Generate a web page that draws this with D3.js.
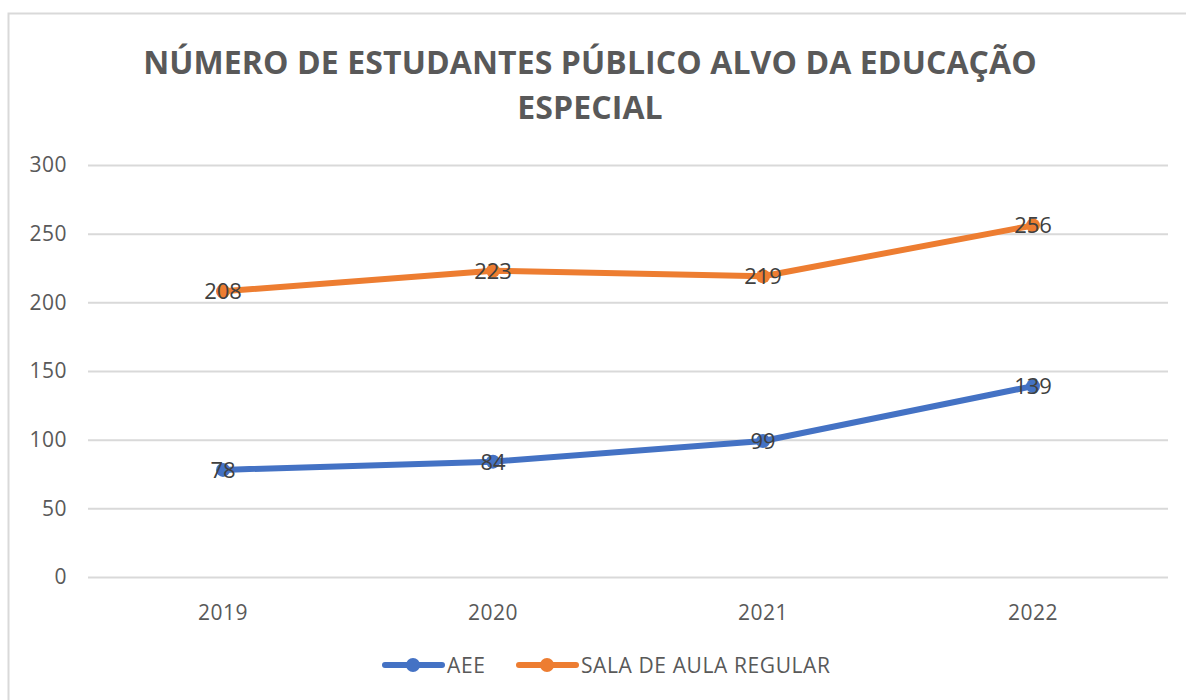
<!DOCTYPE html>
<html>
<head>
<meta charset="utf-8">
<script src="https://cdn.jsdelivr.net/npm/d3@7"></script>
<style>
  body { margin: 0; background: #fff; }
  svg { display: block; font-family: "Open Sans", "Noto Sans", sans-serif; }
</style>
</head>
<body>
<svg id="chart"></svg>
<script>
// data
var years = ["2019", "2020", "2021", "2022"];
var aee = [78, 84, 99, 139];
var salaRegular = [208, 223, 219, 256];
var seriesNames = ["AEE", "SALA DE AULA REGULAR"];
var seriesColors = ["#4472C4", "#ED7D31"];
var yTicks = [0, 50, 100, 150, 200, 250, 300];
var titleLines = ["NÚMERO DE ESTUDANTES PÚBLICO ALVO DA EDUCAÇÃO", "ESPECIAL"];

var W = 1186, H = 700;
var margin = {top: 165, right: 18, bottom: 123, left: 88},
    w = W - margin.left - margin.right,
    h = H - margin.top - margin.bottom;

var svg = d3.select("#chart")
    .attr("width", W)
    .attr("height", H);

// chart frame
svg.append("rect")
   .attr("x", 8.5).attr("y", 13.5)
   .attr("width", W + 20).attr("height", H + 20)
   .attr("fill", "#fff")
   .attr("stroke", "#d9d9d9")
   .attr("stroke-width", 2);

// title
svg.append("text")
   .attr("x", 590)
   .attr("y", 74)
   .attr("text-anchor", "middle")
   .style("font-size", "32px")
   .style("font-weight", 700)
   .style("letter-spacing", "0.1px")
   .style("fill", "#595959")
   .selectAll("tspan")
   .data(titleLines)
   .enter()
   .append("tspan")
   .attr("x", 590)
   .attr("dy", function(d, i) { return i === 0 ? 0 : 45; })
   .text(function(d) { return d; });

var xScale = d3.scaleBand()
    .domain(years)
    .range([0, w]);

var yScale = d3.scaleLinear()
    .domain([0, 300])
    .range([h, 0]);

var g = svg.append("g")
    .attr("transform", "translate(" + margin.left + "," + margin.top + ")");

// gridlines
g.append("g")
 .attr("class", "grid")
 .call(d3.axisLeft(yScale).tickValues(yTicks).tickSize(-w).tickFormat(""))
 .call(function(s) {
    s.select(".domain").remove();
    s.selectAll("line").attr("stroke", "#d9d9d9").attr("stroke-width", 2);
 });

// y axis labels
g.append("g")
 .call(d3.axisLeft(yScale).tickValues(yTicks).tickSize(0).tickPadding(21))
 .call(function(s) {
    s.select(".domain").remove();
    s.selectAll("text")
     .style("font-size", "21px")
     .style("letter-spacing", "0.5px")
     .style("fill", "#595959")
     .style("font-family", "'Open Sans', sans-serif");
 });

// x axis labels
g.append("g")
 .attr("transform", "translate(0," + h + ")")
 .call(d3.axisBottom(xScale).tickSize(0).tickPadding(28))
 .call(function(s) {
    s.select(".domain").remove();
    s.selectAll("text")
     .style("font-size", "21px")
     .style("letter-spacing", "0.5px")
     .style("fill", "#595959")
     .style("font-family", "'Open Sans', sans-serif");
 });

var series = [aee, salaRegular];

var line = d3.line()
    .x(function(d, i) { return xScale(years[i]) + xScale.bandwidth() / 2; })
    .y(function(d) { return yScale(d); });

series.forEach(function(values, k) {
    g.append("path")
     .datum(values)
     .attr("d", line)
     .attr("fill", "none")
     .attr("stroke", seriesColors[k])
     .attr("stroke-width", 6)
     .attr("stroke-linecap", "round")
     .attr("stroke-linejoin", "round");

    g.selectAll(".dot" + k)
     .data(values)
     .enter()
     .append("circle")
     .attr("cx", function(d, i) { return xScale(years[i]) + xScale.bandwidth() / 2; })
     .attr("cy", function(d) { return yScale(d); })
     .attr("r", 7)
     .attr("fill", seriesColors[k]);

    g.selectAll(".lbl" + k)
     .data(values)
     .enter()
     .append("text")
     .attr("x", function(d, i) { return xScale(years[i]) + xScale.bandwidth() / 2; })
     .attr("y", function(d) { return yScale(d) + 8; })
     .attr("text-anchor", "middle")
     .style("font-size", "22px")
     .style("fill", "#404040")
     .text(function(d) { return d; });
});

// legend
var legendX = [385, 519];
var legend = svg.append("g").attr("transform", "translate(0,665)");
seriesNames.forEach(function(name, k) {
    var lg = legend.append("g").attr("transform", "translate(" + legendX[k] + ",0)");
    lg.append("line")
      .attr("x1", 0).attr("x2", 57)
      .attr("y1", 0).attr("y2", 0)
      .attr("stroke", seriesColors[k])
      .attr("stroke-width", 6)
      .attr("stroke-linecap", "round");
    lg.append("circle")
      .attr("cx", 28).attr("cy", 0)
      .attr("r", 7)
      .attr("fill", seriesColors[k]);
    lg.append("text")
      .attr("x", 62).attr("y", 8)
      .style("font-size", "21px")
      .style("letter-spacing", "0.6px")
      .style("fill", "#595959")
      .text(name);
});
</script>
</body>
</html>
